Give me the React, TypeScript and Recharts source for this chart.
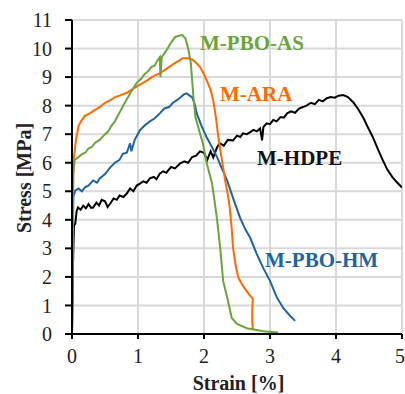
import React from 'react';
import { LineChart, Line, XAxis, YAxis, CartesianGrid } from 'recharts';

// Stress-strain curves: [strain %, stress MPa]
const xTicks = [0, 1, 2, 3, 4, 5];
const yTicks = [0, 1, 2, 3, 4, 5, 6, 7, 8, 9, 10, 11];

const pboAs: [number, number][] = [
  [0, 0], [0.01, 3], [0.02, 5.6], [0.04, 6.1], [0.1, 6.2], [0.15, 6.3], [0.2, 6.35], [0.25, 6.5],
  [0.3, 6.55], [0.35, 6.7], [0.42, 6.8], [0.5, 7.0], [0.55, 7.1], [0.6, 7.3], [0.65, 7.45],
  [0.73, 7.8], [0.8, 8.1], [0.85, 8.3], [0.9, 8.5], [0.98, 8.8], [1.05, 8.95], [1.1, 9.1],
  [1.15, 9.2], [1.2, 9.35], [1.25, 9.4], [1.3, 9.6], [1.33, 9.7], [1.34, 9.0], [1.36, 9.7],
  [1.42, 9.9], [1.5, 10.2], [1.56, 10.4], [1.62, 10.45], [1.67, 10.47], [1.72, 10.35],
  [1.76, 10.0], [1.8, 9.5], [1.84, 8.3], [1.87, 7.6], [1.93, 7.1], [1.98, 6.7], [2.05, 5.9],
  [2.12, 5.3], [2.17, 4.5], [2.2, 3.97], [2.25, 2.9], [2.29, 1.86], [2.36, 1.2], [2.42, 0.56],
  [2.5, 0.35], [2.65, 0.2], [2.9, 0.1], [3.12, 0.05],
];

const ara: [number, number][] = [
  [0, 0], [0.01, 4], [0.02, 6], [0.06, 6.8], [0.1, 7.3], [0.15, 7.5], [0.2, 7.65], [0.27, 7.73],
  [0.35, 7.85], [0.42, 7.95], [0.5, 8.1], [0.58, 8.19], [0.65, 8.3], [0.72, 8.35], [0.83, 8.45],
  [0.9, 8.55], [1.0, 8.7], [1.08, 8.8], [1.15, 8.9], [1.25, 9.05], [1.33, 9.13], [1.42, 9.27],
  [1.5, 9.4], [1.59, 9.53], [1.68, 9.66], [1.76, 9.66], [1.82, 9.62], [1.88, 9.5], [1.94, 9.35],
  [2.0, 9.1], [2.04, 8.89], [2.1, 8.55], [2.14, 8.19], [2.18, 7.6], [2.21, 7.03], [2.25, 6.4],
  [2.29, 5.84], [2.32, 5.38], [2.36, 4.9], [2.39, 4.43], [2.42, 3.7], [2.44, 3.02], [2.48, 2.4],
  [2.52, 1.97], [2.6, 1.65], [2.68, 1.4], [2.74, 1.23], [2.73, 0.8], [2.73, 0.46], [2.74, 0.15],
];

const pboHm: [number, number][] = [
  [0, 0], [0.01, 2.5], [0.02, 4.8], [0.05, 5.03], [0.1, 5.1], [0.15, 5.0], [0.2, 5.15],
  [0.25, 5.2], [0.32, 5.38], [0.38, 5.3], [0.42, 5.45], [0.5, 5.6], [0.58, 5.84], [0.65, 6.0],
  [0.72, 6.1], [0.77, 6.31], [0.83, 6.35], [0.88, 6.68], [0.9, 6.4], [0.95, 6.8], [1.03, 7.14],
  [1.1, 7.3], [1.18, 7.45], [1.25, 7.55], [1.33, 7.73], [1.4, 7.9], [1.47, 7.95], [1.53, 8.1],
  [1.59, 8.19], [1.65, 8.3], [1.7, 8.4], [1.74, 8.43], [1.78, 8.35], [1.82, 8.3], [1.86, 8.05],
  [1.89, 7.73], [1.96, 7.3], [2.04, 6.89], [2.12, 6.55], [2.2, 6.19], [2.28, 5.75], [2.35, 5.38],
  [2.45, 4.7], [2.55, 4.05], [2.63, 3.65], [2.7, 3.37], [2.8, 2.8], [2.9, 2.3], [3.0, 1.86],
  [3.1, 1.3], [3.2, 0.91], [3.3, 0.65], [3.38, 0.46],
];

const hdpe: [number, number][] = [
  [0, 0], [0.01, 2], [0.03, 3.8], [0.05, 3.87], [0.07, 4.3], [0.09, 4.43], [0.13, 4.35],
  [0.17, 4.5], [0.21, 4.4], [0.25, 4.55], [0.29, 4.42], [0.32, 4.43], [0.37, 4.6], [0.41, 4.5],
  [0.45, 4.7], [0.5, 4.65], [0.54, 4.45], [0.58, 4.57], [0.63, 4.75], [0.68, 4.7], [0.72, 4.85],
  [0.78, 4.8], [0.83, 4.92], [0.88, 5.1], [0.93, 5.0], [0.98, 5.2], [1.03, 5.27], [1.08, 5.35],
  [1.13, 5.3], [1.18, 5.45], [1.24, 5.5], [1.28, 5.42], [1.33, 5.62], [1.38, 5.7], [1.43, 5.65],
  [1.5, 5.85], [1.56, 5.8], [1.64, 5.98], [1.7, 6.05], [1.76, 6.0], [1.82, 6.2], [1.88, 6.25],
  [1.94, 6.4], [2.0, 6.35], [2.05, 6.1], [2.1, 6.4], [2.14, 6.19], [2.2, 6.55], [2.24, 6.68],
  [2.3, 6.6], [2.36, 6.8], [2.44, 6.78], [2.5, 6.95], [2.55, 6.9], [2.59, 7.03], [2.65, 7.0],
  [2.7, 7.07], [2.75, 7.15], [2.8, 7.1], [2.85, 7.2], [2.88, 6.78], [2.9, 7.25], [2.95, 7.38],
  [3.0, 7.35], [3.05, 7.5], [3.1, 7.45], [3.16, 7.6], [3.21, 7.58], [3.26, 7.73], [3.32, 7.8],
  [3.38, 7.75], [3.44, 7.9], [3.5, 7.95], [3.56, 8.01], [3.62, 8.1], [3.68, 8.05], [3.74, 8.2],
  [3.8, 8.15], [3.86, 8.26], [3.92, 8.3], [3.98, 8.28], [4.04, 8.35], [4.11, 8.37], [4.18, 8.3],
  [4.26, 8.12], [4.33, 7.9], [4.41, 7.59], [4.48, 7.25], [4.56, 6.89], [4.63, 6.5], [4.71, 6.08],
  [4.78, 5.75], [4.86, 5.48], [4.93, 5.3], [5.0, 5.13],
];

const toPoints = (pts: [number, number][]) => pts.map(([x, y]) => ({ x, y }));

const series = [
  { name: 'M-HDPE', color: '#000000', data: toPoints(hdpe) },
  { name: 'M-PBO-HM', color: '#1f64a0', data: toPoints(pboHm) },
  { name: 'M-ARA', color: '#ff6a00', data: toPoints(ara) },
  { name: 'M-PBO-AS', color: '#6aa43c', data: toPoints(pboAs) },
];

const FONT = 'Liberation Serif, DejaVu Serif, serif';

const labelStyle = (left: number, top: number, color: string): React.CSSProperties => ({
  position: 'absolute',
  left,
  top,
  color,
  fontFamily: FONT,
  fontWeight: 'bold',
  fontSize: 21,
  lineHeight: '21px',
  whiteSpace: 'nowrap',
});

export default function App() {
  return (
    <div style={{ position: 'relative', width: 405, height: 394, background: '#fff' }}>
      <style>{'body{margin:0}'}</style>
      <LineChart
        width={405}
        height={394}
        margin={{ top: 20, right: 3, bottom: 0, left: 0 }}
        style={{ fontFamily: FONT }}
      >
        <CartesianGrid stroke="#d9d9d9" strokeWidth={2} />
        <XAxis
          type="number"
          dataKey="x"
          domain={[0, 5]}
          ticks={xTicks}
          height={60}
          stroke="#000"
          axisLine={{ stroke: '#000', strokeWidth: 2 }}
          tickLine={{ stroke: '#000', strokeWidth: 2 }}
          tickSize={5}
          tickMargin={10}
          tick={{ fill: '#222', fontSize: 20, fontFamily: FONT }}
          allowDataOverflow
        />
        <YAxis
          type="number"
          dataKey="y"
          domain={[0, 11]}
          ticks={yTicks}
          width={72}
          stroke="#000"
          axisLine={{ stroke: '#000', strokeWidth: 2 }}
          tickLine={{ stroke: '#000', strokeWidth: 2 }}
          tickSize={7}
          tickMargin={13}
          tick={{ fill: '#222', fontSize: 20, fontFamily: FONT }}
          interval={0}
        />
        {series.map((s) => (
          <Line
            key={s.name}
            data={s.data}
            dataKey="y"
            type="linear"
            stroke={s.color}
            strokeWidth={2}
            dot={false}
            isAnimationActive={false}
          />
        ))}
      </LineChart>
      <div style={labelStyle(200, 33, '#6aa43c')}>M-PBO-AS</div>
      <div style={labelStyle(220, 84, '#ff6a00')}>M-ARA</div>
      <div style={labelStyle(257, 148, '#111')}>M-HDPE</div>
      <div style={labelStyle(265, 250, '#1f64a0')}>M-PBO-HM</div>
      <div
        style={{
          position: 'absolute',
          left: 0,
          top: 373,
          width: 405,
          paddingLeft: 72,
          boxSizing: 'border-box',
          textAlign: 'center',
          fontFamily: FONT,
          fontWeight: 'bold',
          fontSize: 20,
          lineHeight: '20px',
          color: '#222',
        }}
      >
        Strain [%]
      </div>
      <div
        style={{
          position: 'absolute',
          left: 24,
          top: 178,
          transform: 'translate(-50%, -50%) rotate(-90deg)',
          fontFamily: FONT,
          fontWeight: 'bold',
          fontSize: 20,
          lineHeight: '20px',
          color: '#222',
          whiteSpace: 'nowrap',
        }}
      >
        Stress [MPa]
      </div>
    </div>
  );
}
